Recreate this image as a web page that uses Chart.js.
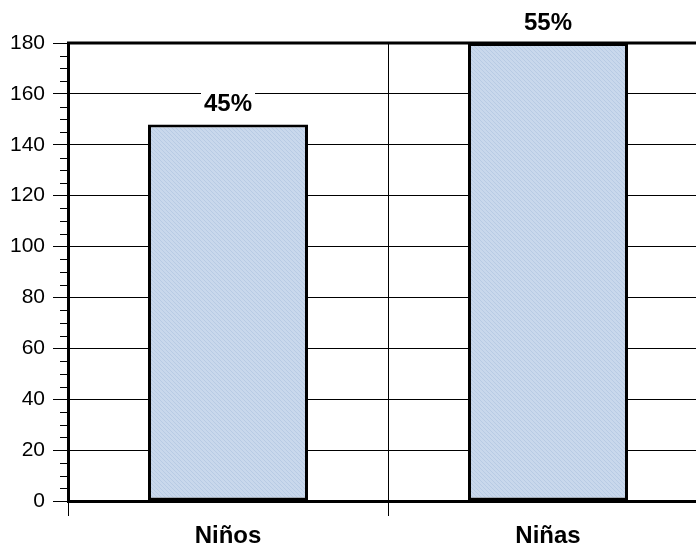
<!DOCTYPE html>
<html>
<head>
<meta charset="utf-8">
<script src="https://cdn.jsdelivr.net/npm/chart.js@4/dist/chart.umd.min.js"></script>
<style>
html,body{margin:0;padding:0;background:#fff;overflow:hidden;width:696px;height:548px;}
#wrap{position:absolute;left:0;top:0;width:710px;height:548px;}
</style>
</head>
<body>
<div id="wrap"><canvas id="c" width="710" height="548"></canvas></div>
<script>
const categories = ["Niños", "Niñas"];
const values = [148, 180];
const percentLabels = ["45%", "55%"];
const yTicks = [0, 20, 40, 60, 80, 100, 120, 140, 160, 180];

function makePattern() {
  const p = document.createElement('canvas');
  p.width = 4; p.height = 4;
  const g = p.getContext('2d');
  g.fillStyle = '#c9d8ec';
  g.fillRect(0, 0, 4, 4);
  g.fillStyle = '#b8cbe4';
  for (let i = 0; i < 4; i++) g.fillRect(i, i, 1, 1);
  return g.createPattern(p, 'repeat');
}

const minorTicks = {
  id: 'minorTicks',
  afterDraw(chart) {
    const y = chart.scales.y, ctx = chart.ctx, left = chart.chartArea.left;
    ctx.save();
    ctx.strokeStyle = '#000';
    ctx.lineWidth = 1;
    for (let v = 0; v <= 180; v += 5) {
      if (v % 20 === 0) continue;
      const py = Math.round(y.getPixelForValue(v)) + 0.5;
      ctx.beginPath();
      ctx.moveTo(left - 8, py);
      ctx.lineTo(left, py);
      ctx.stroke();
    }
    ctx.lineWidth = 3;
    ctx.beginPath();
    ctx.moveTo(left - 1, chart.chartArea.top);
    ctx.lineTo(chart.chartArea.right, chart.chartArea.top);
    ctx.stroke();
    ctx.restore();
  }
};

const barLabels = {
  id: 'barLabels',
  afterDraw(chart) {
    const ctx = chart.ctx;
    const meta = chart.getDatasetMeta(0);
    ctx.save();
    ctx.font = 'bold 24px "Liberation Sans", Arial, sans-serif';
    ctx.textAlign = 'center';
    ctx.textBaseline = 'middle';
    meta.data.forEach((el, i) => {
      const t = percentLabels[i];
      const w = ctx.measureText(t).width;
      const ty = el.y - 20;
      ctx.fillStyle = '#fff';
      ctx.fillRect(el.x - w / 2 - 3, ty - 12, w + 6, 24);
      ctx.fillStyle = '#000';
      ctx.fillText(t, el.x, ty);
    });
    ctx.restore();
  }
};

new Chart(document.getElementById('c'), {
  type: 'bar',
  data: {
    labels: categories,
    datasets: [{
      data: values,
      backgroundColor: makePattern(),
      borderColor: '#000',
      borderWidth: 3,
      borderSkipped: false,
      categoryPercentage: 0.5,
      barPercentage: 1.0
    }]
  },
  options: {
    responsive: false,
    animation: false,
    devicePixelRatio: 1,
    layout: { padding: { top: 43, right: 2, left: 0, bottom: 0 } },
    plugins: { legend: { display: false }, tooltip: { enabled: false } },
    scales: {
      x: {
        grid: { color: '#000', lineWidth: 1, offset: true, tickLength: 15, drawTicks: true },
        border: { color: '#000', width: 3 },
        ticks: { color: '#000', font: { family: '"Liberation Sans", Arial, sans-serif', size: 24, weight: 'bold' }, padding: 6 },
        afterFit(s) { s.height = 47; }
      },
      y: {
        min: 0, max: 180,
        afterBuildTicks(s) { s.ticks = yTicks.map(v => ({ value: v })); },
        grid: { color: '#000', lineWidth: 1, tickLength: 15 },
        border: { color: '#000', width: 3 },
        ticks: { color: '#000', font: { family: '"Liberation Sans", Arial, sans-serif', size: 21 }, padding: 8 },
        afterFit(s) { s.width = 68; }
      }
    }
  },
  plugins: [minorTicks, barLabels]
});
</script>
</body>
</html>
